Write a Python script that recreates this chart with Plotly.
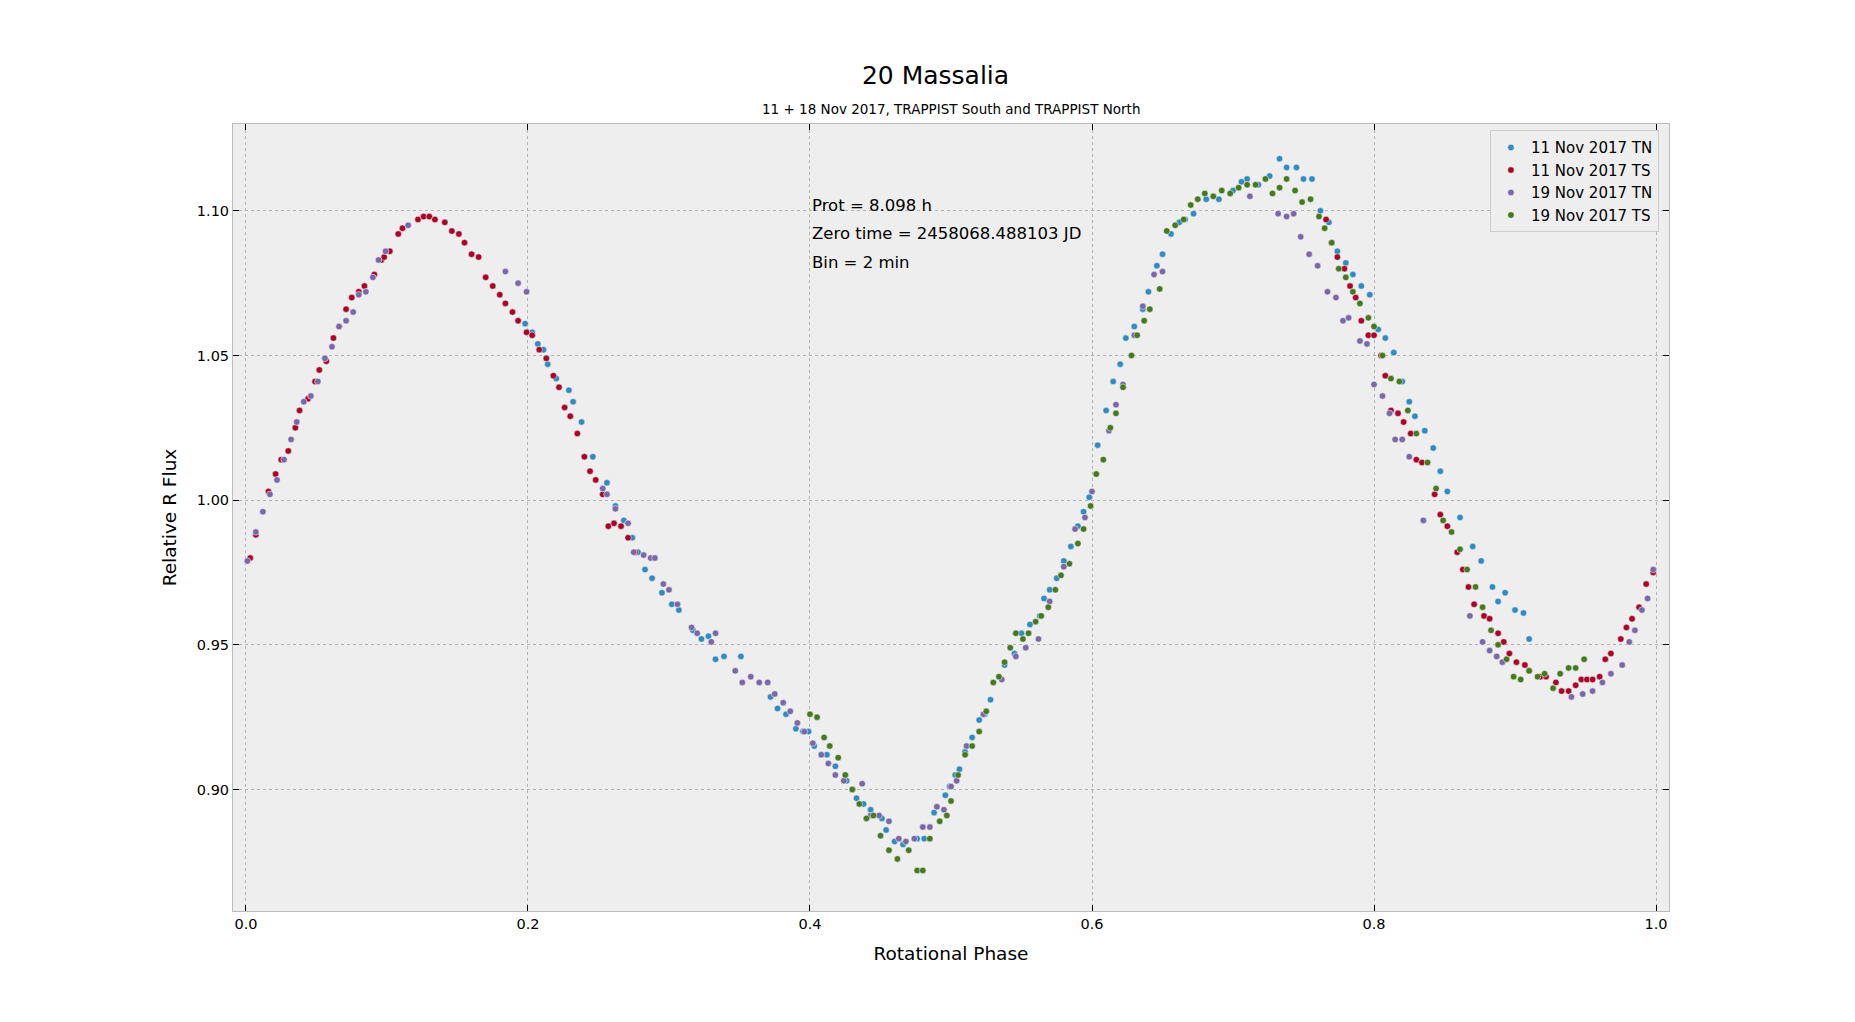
import plotly.graph_objects as go

# 11 Nov 2017 TN
tn11_phase = [0.193,0.198,0.203,0.207,0.211,0.214,0.220,0.229,0.232,0.238,0.246,0.256,0.262,0.268,0.274,0.278,0.283,0.288,0.295,0.302,0.307,0.317,0.323,0.328,0.333,0.339,0.351,0.372,0.377,0.383,0.390,0.395,0.399,0.403,0.408,0.412,0.418,0.426,0.433,0.438,0.443,0.451,0.454,0.460,0.466,0.476,0.481,0.488,0.496,0.499,0.503,0.506,0.510,0.515,0.520,0.524,0.528,0.538,0.545,0.550,0.556,0.563,0.566,0.570,0.575,0.580,0.585,0.590,0.594,0.598,0.604,0.610,0.615,0.620,0.624,0.630,0.636,0.640,0.646,0.650,0.656,0.662,0.666,0.672,0.681,0.690,0.700,0.706,0.710,0.718,0.726,0.733,0.738,0.745,0.750,0.756,0.762,0.768,0.774,0.780,0.785,0.791,0.797,0.803,0.808,0.814,0.820,0.825,0.829,0.836,0.842,0.847,0.852,0.861,0.870,0.876,0.884,0.888,0.893,0.900,0.906,0.910]
tn11_flux = [1.062,1.061,1.058,1.054,1.052,1.047,1.042,1.038,1.034,1.027,1.015,1.006,0.998,0.993,0.987,0.982,0.976,0.973,0.968,0.964,0.962,0.955,0.952,0.953,0.945,0.946,0.946,0.932,0.928,0.926,0.921,0.920,0.920,0.915,0.912,0.912,0.908,0.903,0.897,0.895,0.893,0.890,0.886,0.882,0.881,0.883,0.883,0.892,0.898,0.901,0.905,0.907,0.913,0.918,0.924,0.926,0.931,0.943,0.947,0.954,0.957,0.960,0.966,0.969,0.973,0.979,0.984,0.991,0.996,1.001,1.019,1.031,1.041,1.047,1.056,1.060,1.066,1.072,1.081,1.085,1.092,1.096,1.097,1.099,1.104,1.104,1.107,1.110,1.111,1.109,1.112,1.118,1.115,1.115,1.111,1.111,1.100,1.096,1.086,1.082,1.078,1.074,1.071,1.059,1.056,1.051,1.041,1.034,1.029,1.024,1.018,1.010,1.003,0.994,0.984,0.979,0.970,0.965,0.968,0.962,0.961,0.952]

# 11 Nov 2017 TS
ts11_phase = [0.003,0.007,0.016,0.021,0.025,0.030,0.035,0.038,0.044,0.049,0.052,0.057,0.062,0.066,0.071,0.075,0.080,0.084,0.091,0.096,0.098,0.102,0.108,0.111,0.122,0.126,0.130,0.134,0.141,0.146,0.151,0.155,0.160,0.165,0.170,0.175,0.180,0.184,0.189,0.193,0.199,0.203,0.208,0.213,0.218,0.222,0.226,0.230,0.235,0.240,0.244,0.248,0.253,0.257,0.261,0.266,0.271,0.276,
              0.766,0.770,0.774,0.779,0.783,0.787,0.791,0.796,0.800,0.805,0.808,0.812,0.817,0.821,0.826,0.830,0.834,0.843,0.847,0.852,0.859,0.863,0.867,0.871,0.878,0.882,0.888,0.892,0.896,0.901,0.907,0.910,0.918,0.922,0.929,0.933,0.938,0.943,0.947,0.951,0.955,0.960,0.964,0.968,0.975,0.979,0.983,0.988,0.993,0.998]
ts11_flux = [0.980,0.988,1.003,1.009,1.014,1.017,1.025,1.031,1.035,1.041,1.045,1.048,1.056,1.060,1.066,1.070,1.072,1.074,1.078,1.083,1.084,1.086,1.092,1.094,1.097,1.098,1.098,1.097,1.096,1.093,1.092,1.089,1.085,1.084,1.077,1.074,1.071,1.068,1.065,1.062,1.058,1.057,1.052,1.049,1.043,1.039,1.032,1.029,1.023,1.015,1.010,1.007,1.002,0.991,0.992,0.991,0.987,0.982,
             1.097,1.089,1.084,1.080,1.074,1.070,1.062,1.057,1.057,1.050,1.043,1.031,1.030,1.027,1.023,1.014,1.013,1.002,0.995,0.991,0.982,0.976,0.970,0.964,0.960,0.959,0.954,0.951,0.947,0.944,0.943,0.941,0.939,0.939,0.937,0.934,0.934,0.936,0.938,0.938,0.938,0.939,0.945,0.947,0.952,0.956,0.959,0.963,0.971,0.975]

# 19 Nov 2017 TN
tn19_phase = [0.001,0.007,0.012,0.017,0.022,0.027,0.032,0.036,0.041,0.046,0.051,0.056,0.061,0.066,0.071,0.076,0.080,0.085,0.090,0.094,0.099,0.115,0.184,0.193,0.199,0.253,0.256,0.262,0.271,0.275,0.282,0.287,0.290,0.296,0.300,0.306,0.316,0.320,0.330,0.333,0.347,0.352,0.358,0.364,0.370,0.375,0.381,0.386,0.391,0.396,0.402,0.408,0.413,0.418,0.424,0.430,0.437,0.443,0.449,0.456,0.463,0.468,0.474,0.480,0.485,0.490,0.495,0.500,0.504,0.511,0.523,0.536,0.546,0.553,0.562,0.570,0.580,0.588,0.595,0.600,0.612,0.617,0.622,0.630,0.636,0.644,0.650,0.712,0.732,0.738,0.743,0.748,0.754,0.760,0.767,0.773,0.778,0.782,0.790,0.795,0.800,0.806,0.811,0.815,0.820,0.825,0.835,0.868,0.877,0.882,0.887,0.891,0.940,0.948,0.955,0.962,0.968,0.976,0.981,0.985,0.990,0.994,0.998]
tn19_flux = [0.979,0.989,0.996,1.002,1.007,1.014,1.021,1.027,1.034,1.036,1.041,1.049,1.053,1.060,1.062,1.065,1.071,1.072,1.077,1.083,1.086,1.095,1.079,1.075,1.072,1.004,1.002,0.997,0.992,0.982,0.981,0.980,0.980,0.971,0.969,0.964,0.956,0.954,0.951,0.954,0.941,0.937,0.939,0.937,0.937,0.933,0.930,0.927,0.923,0.920,0.916,0.912,0.909,0.905,0.903,0.900,0.902,0.891,0.891,0.889,0.883,0.882,0.883,0.887,0.887,0.894,0.893,0.901,0.903,0.915,0.926,0.938,0.946,0.949,0.952,0.965,0.977,0.990,0.994,1.003,1.024,1.033,1.040,1.057,1.067,1.078,1.079,1.105,1.099,1.098,1.099,1.091,1.085,1.081,1.072,1.070,1.062,1.063,1.055,1.054,1.040,1.036,1.030,1.021,1.021,1.015,0.993,0.960,0.951,0.948,0.946,0.944,0.932,0.933,0.934,0.937,0.940,0.943,0.951,0.955,0.962,0.966,0.976]

# 19 Nov 2017 TS
ts19_phase = [0.400,0.405,0.410,0.414,0.420,0.425,0.430,0.435,0.440,0.445,0.450,0.456,0.462,0.470,0.476,0.480,0.485,0.492,0.497,0.500,0.505,0.510,0.515,0.520,0.525,0.530,0.534,0.538,0.542,0.546,0.551,0.555,0.560,0.564,0.569,0.574,0.578,0.584,0.590,0.594,0.599,0.603,0.608,0.613,0.617,0.622,0.628,0.632,0.637,0.641,0.648,0.653,0.659,0.665,0.670,0.675,0.680,0.686,0.692,0.698,0.704,0.710,0.716,0.723,0.728,0.733,0.738,0.744,0.749,0.755,0.761,0.765,0.770,0.775,0.780,0.785,0.790,0.796,0.800,0.806,0.812,0.818,0.824,0.830,0.838,0.844,0.849,0.855,0.861,0.866,0.872,0.877,0.883,0.888,0.894,0.899,0.904,0.910,0.916,0.921,0.927,0.932,0.938,0.943,0.949]
ts19_flux = [0.926,0.925,0.918,0.915,0.911,0.905,0.900,0.895,0.890,0.891,0.884,0.879,0.876,0.879,0.872,0.872,0.883,0.889,0.891,0.896,0.905,0.912,0.915,0.920,0.927,0.937,0.939,0.944,0.949,0.954,0.952,0.954,0.958,0.960,0.963,0.969,0.974,0.978,0.985,0.990,0.998,1.009,1.014,1.025,1.030,1.039,1.050,1.057,1.062,1.066,1.073,1.093,1.095,1.097,1.102,1.104,1.106,1.105,1.107,1.106,1.108,1.109,1.109,1.111,1.106,1.108,1.111,1.107,1.103,1.104,1.098,1.094,1.089,1.080,1.077,1.072,1.068,1.063,1.060,1.050,1.042,1.041,1.031,1.023,1.013,1.004,0.993,0.989,0.983,0.976,0.970,0.963,0.955,0.950,0.945,0.939,0.938,0.941,0.939,0.940,0.935,0.940,0.942,0.942,0.945]

info_lines = ["Prot = 8.098 h", "Zero time = 2458068.488103 JD", "Bin = 2 min"]
info_y = [1.1018, 1.0920, 1.0822]

series = [
    ("11 Nov 2017 TN", tn11_phase, tn11_flux, "#348ABD"),
    ("11 Nov 2017 TS", ts11_phase, ts11_flux, "#A60628"),
    ("19 Nov 2017 TN", tn19_phase, tn19_flux, "#7A68A6"),
    ("19 Nov 2017 TS", ts19_phase, ts19_flux, "#467821"),
]

fig = go.Figure()
for name, x, y, col in series:
    fig.add_trace(go.Scatter(x=x, y=y, mode="markers", name=name,
                             marker=dict(color=col, size=6.5, line=dict(width=0.5, color="white"))))

# info text block, one line per annotation to get matplotlib-like spacing
for line, yy in zip(info_lines, info_y):
    fig.add_annotation(x=0.4, y=yy, xref="x", yref="y", xanchor="left", yanchor="middle",
                       showarrow=False, text=line,
                       font=dict(size=16.5, color="black", family="DejaVu Sans"))

fig.add_annotation(x=0.5, y=1.0, xref="paper", yref="paper", yanchor="bottom", yshift=5,
                   showarrow=False, text="11 + 18 Nov 2017, TRAPPIST South and TRAPPIST North",
                   font=dict(size=13.5, color="black"))

axis_style = dict(showline=True, linecolor="#bcbcbc", linewidth=1, mirror="ticks",
                  ticks="inside", ticklen=6, tickcolor="black",
                  showgrid=True, gridcolor="#b2b2b2", griddash="dot", gridwidth=1,
                  zeroline=False, tickfont=dict(size=14.5, color="black"))

fig.update_layout(
    width=1855, height=1022,
    paper_bgcolor="white", plot_bgcolor="#eeeeee",
    font=dict(family="DejaVu Sans", color="black"),
    title=dict(text="20 Massalia", x=0.5, y=1 - 67 / 1022, yref="container",
               xanchor="center", yanchor="middle", font=dict(size=25)),
    margin=dict(l=225, r=194, t=116, b=119),
    showlegend=True,
    legend=dict(x=0.993, y=0.992, xanchor="right", yanchor="top",
                bgcolor="#eeeeee", bordercolor="#cccccc", borderwidth=1,
                font=dict(size=15)),
    xaxis=dict(title=dict(text="Rotational Phase", font=dict(size=18.5)),
               range=[-0.0092, 1.0092], tickvals=[0, 0.2, 0.4, 0.6, 0.8, 1.0],
               ticktext=["0.0", "0.2", "0.4", "0.6", "0.8", "1.0"], **axis_style),
    yaxis=dict(title=dict(text="Relative R Flux", font=dict(size=18.5)),
               range=[0.858, 1.130], tickvals=[0.90, 0.95, 1.00, 1.05, 1.10],
               ticktext=["0.90", "0.95", "1.00", "1.05", "1.10"], **axis_style),
)

fig.write_html("out.html")
